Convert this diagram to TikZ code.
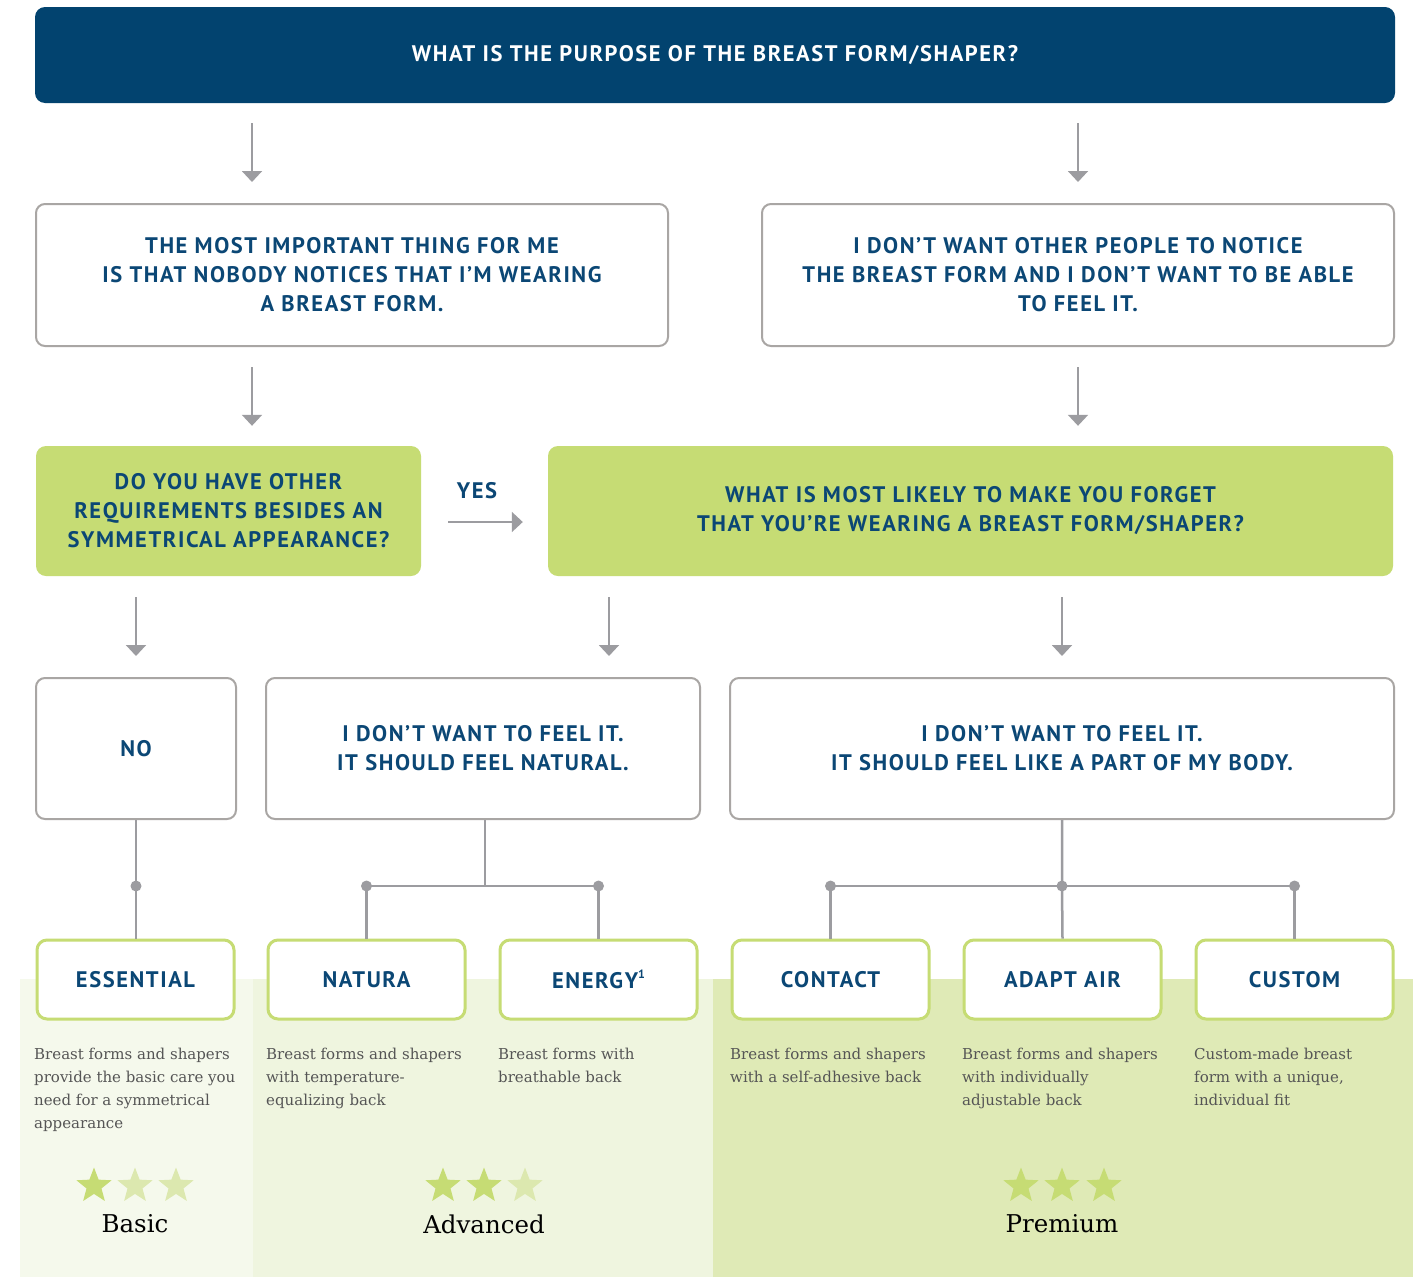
\documentclass[tikz,border=0pt]{standalone}
\usepackage{fontspec}
\usetikzlibrary{shapes.geometric,arrows.meta,calc}
\newfontfamily\hdfont{PT Sans}[LetterSpace=7]
\newfontfamily\bodyfont{DejaVu Serif}
\definecolor{navy}{HTML}{02436F}
\definecolor{txtblue}{HTML}{0B4775}
\definecolor{lime}{HTML}{C6DC74}
\definecolor{starlite}{HTML}{DCE8AF}
\definecolor{bordergrey}{HTML}{A9A6A4}
\definecolor{linegrey}{HTML}{9C9CA0}
\definecolor{bgA}{HTML}{F5F9EC}
\definecolor{bgB}{HTML}{EFF5DF}
\definecolor{bgC}{HTML}{DFEAB6}
\definecolor{desc}{HTML}{555555}
\tikzset{
  hd/.style={font=\hdfont\bfseries\fontsize{22.5}{29}\selectfont, text=txtblue, align=center},
  greybox/.style={hd, draw=bordergrey, line width=2pt, fill=white, rounded corners=9pt},
  greenbox/.style={hd, fill=lime, rounded corners=10pt},
  prodbox/.style={hd, draw=lime, line width=3pt, fill=white, rounded corners=10pt, minimum width=197pt, minimum height=79pt},
  arr/.style={draw=linegrey, line width=2pt, -{Triangle[width=20pt,length=11pt]}},
  link/.style={draw=linegrey, line width=2.5pt},
  jdot/.style={circle, fill=linegrey, inner sep=0, minimum size=11pt},
  desctext/.style={font=\bodyfont\fontsize{15}{23}\selectfont, text=desc, align=left, anchor=north west, inner sep=0},
  tier/.style={font=\bodyfont\fontsize{24.5}{28}\selectfont, text=black},
  starfull/.style={star, star points=5, star point ratio=2.35, fill=lime, inner sep=0, minimum size=37pt},
  starempty/.style={starfull, fill=starlite}
}
\begin{document}
\begin{tikzpicture}[x=1pt,y=-1pt]
\useasboundingbox (0,0) rectangle (1413,1277);
\fill[white] (0,0) rectangle (1413,1277);
% background panels
\fill[bgA] (20,979) rectangle (253,1277);
\fill[bgB] (253,979) rectangle (713,1277);
\fill[bgC] (713,979) rectangle (1413,1277);

% header
\node[hd, fill=navy, text=white, rounded corners=10pt, minimum width=1360pt, minimum height=96pt] (hdr) at (715,55) {WHAT IS THE PURPOSE OF THE BREAST FORM/SHAPER?};

% row 1
\node[greybox, minimum width=632pt, minimum height=142pt] (A) at (352,275) {THE MOST IMPORTANT THING FOR ME\\IS THAT NOBODY NOTICES THAT I’M WEARING\\A BREAST FORM.};
\node[greybox, minimum width=632pt, minimum height=142pt] (B) at (1078,275) {I DON’T WANT OTHER PEOPLE TO NOTICE\\THE BREAST FORM AND I DON’T WANT TO BE ABLE\\TO FEEL IT.};

% row 2
\node[greenbox, minimum width=385pt, minimum height=130pt] (C) at (228.5,511) {DO YOU HAVE OTHER\\REQUIREMENTS BESIDES AN\\SYMMETRICAL APPEARANCE?};
\node[greenbox, minimum width=845pt, minimum height=130pt] (D) at (970.5,511) {WHAT IS MOST LIKELY TO MAKE YOU FORGET\\THAT YOU’RE WEARING A BREAST FORM/SHAPER?};
\node[hd] (yes) at (477,491) {YES};

% row 3
\node[greybox, minimum width=200pt, minimum height=141pt] (NO) at (136,748.5) {NO};
\node[greybox, minimum width=434pt, minimum height=141pt] (E) at (483,748.5) {I DON’T WANT TO FEEL IT.\\IT SHOULD FEEL NATURAL.};
\node[greybox, minimum width=664pt, minimum height=141pt] (F) at (1062,748.5) {I DON’T WANT TO FEEL IT.\\IT SHOULD FEEL LIKE A PART OF MY BODY.};

% products
\node[prodbox] (pEss) at (135.5,979.5) {ESSENTIAL};
\node[prodbox] (pNat) at (366.5,979.5) {NATURA};
\node[prodbox] (pEn) at (598.5,979.5) {ENERGY\raisebox{0.42em}{\fontsize{12}{12}\selectfont 1}};
\node[prodbox] (pCon) at (830.5,979.5) {CONTACT};
\node[prodbox] (pAda) at (1062.5,979.5) {ADAPT AIR};
\node[prodbox] (pCus) at (1294.5,979.5) {CUSTOM};

% arrows
\draw[arr] ($(A.north |- hdr.south)+(-100,20)$) -- ($(A.north)+(-100,-21)$);
\draw[arr] ($(B.north |- hdr.south)+(0,20)$) -- ($(B.north)+(0,-21)$);
\draw[arr] ($(A.south)+(-100,20)$) -- ($(A.south |- C.north)+(-100,-20)$);
\draw[arr] ($(B.south)+(0,20)$) -- ($(B.south |- D.north)+(0,-20)$);
\draw[arr] ($(C.east)+(27,11)$) -- ($(D.west)+(-25,11)$);
\draw[arr] ($(NO.north |- C.south)+(0,21)$) -- ($(NO.north)+(0,-21)$);
\draw[arr] ($(E.north |- D.south)+(126,21)$) -- ($(E.north)+(126,-21)$);
\draw[arr] ($(F.north |- D.south)+(0,21)$) -- ($(F.north)+(0,-21)$);

% connectors
\coordinate (j0) at ($(NO.south)+(0,66)$);
\draw[link] (NO.south) -- (NO.south |- pEss.north);
\node[jdot] at (j0) {};

\coordinate (j1) at ($(E.south)+(2,66)$);
\draw[link] ($(E.south)+(2,0)$) -- (j1);
\draw[link] (pNat.north) |- (j1) -| (pEn.north);
\node[jdot] at (pNat.north |- j1) {};
\node[jdot] at (pEn.north |- j1) {};

\coordinate (j2) at ($(F.south)+(0,66)$);
\draw[link] (F.south) -- (j2) -- (pAda.north);
\draw[link] (pCon.north) |- (j2) -| (pCus.north);
\node[jdot] at (pCon.north |- j2) {};
\node[jdot] at (j2) {};
\node[jdot] at (pCus.north |- j2) {};

% descriptions
\node[desctext] (dEss) at (34,1047.5) {Breast forms and shapers\\provide the basic care you\\need for a symmetrical\\appearance};
\node[desctext] (dNat) at (266,1047.5) {Breast forms and shapers\\with temperature-\\equalizing back};
\node[desctext] (dEn) at (498,1047.5) {Breast forms with\\breathable back};
\node[desctext] (dCon) at (730,1047.5) {Breast forms and shapers\\with a self-adhesive back};
\node[desctext] (dAda) at (962,1047.5) {Breast forms and shapers\\with individually\\adjustable back};
\node[desctext] (dCus) at (1194,1047.5) {Custom-made breast\\form with a unique,\\individual fit};

% stars
\node[starfull] at (94,1186) {};
\node[starempty] at (135,1186) {};
\node[starempty] at (176,1186) {};
\node[starfull] at (443,1186) {};
\node[starfull] at (484,1186) {};
\node[starempty] at (525,1186) {};
\node[starfull] at (1021,1186) {};
\node[starfull] at (1062,1186) {};
\node[starfull] at (1104,1186) {};

% tiers
\node[tier] (tBasic) at (135,1224) {Basic};
\node[tier] (tAdv) at (484,1224) {Advanced};
\node[tier] (tPrem) at (1062,1224) {Premium};
\end{tikzpicture}
\end{document}
